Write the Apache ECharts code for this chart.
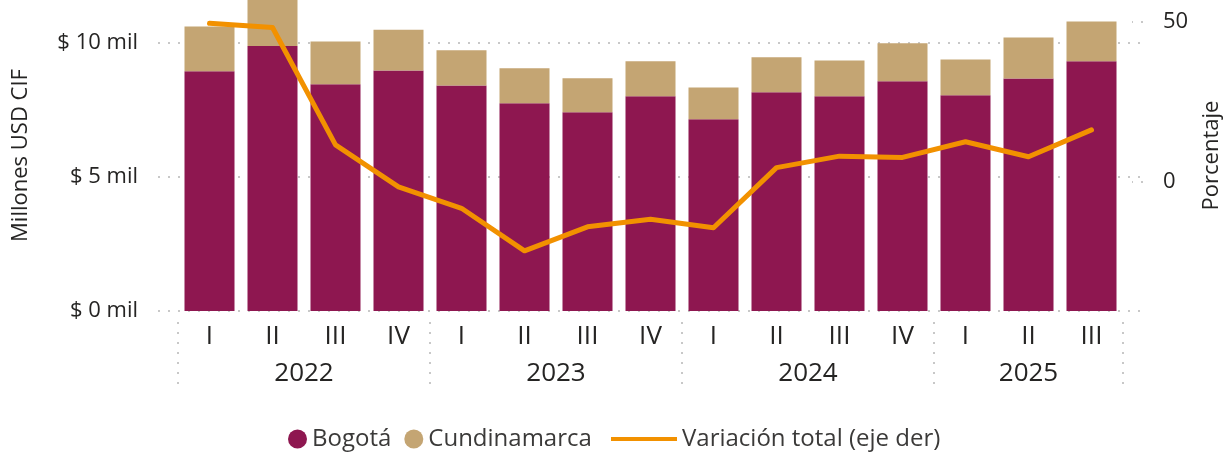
<!DOCTYPE html>
<html>
<head>
<meta charset="utf-8">
<title>Importaciones Bogotá y Cundinamarca</title>
<script src="https://cdn.jsdelivr.net/npm/echarts@6/dist/echarts.min.js"></script>
<style>
  html, body { margin: 0; padding: 0; background: #fff; }
  #chart { width: 1223px; height: 457px; }
</style>
</head>
<body>
<div id="chart"></div>
<script>
// data (miles de millones USD CIF, variación %)
const quarters = ["I", "II", "III", "IV", "I", "II", "III", "IV", "I", "II", "III", "IV", "I", "II", "III"];
const yearOfQuarter = ["2022", "2022", "2022", "2022", "2023", "2023", "2023", "2023",
  "2024", "2024", "2024", "2024", "2025", "2025", "2025"];
const bogota = [8.96, 9.90, 8.47, 8.99, 8.43, 7.76, 7.43, 8.02, 7.16, 8.17, 8.02, 8.58, 8.06, 8.69, 9.33];
const cundinamarca = [1.67, 1.72, 1.60, 1.52, 1.31, 1.31, 1.27, 1.31, 1.19, 1.31, 1.34, 1.42, 1.34, 1.53, 1.49];
const variacion = [49.6, 48.3, 11.6, -1.5, -8.2, -21.5, -14.0, -11.6, -14.3, 4.5, 8.1, 7.7, 12.6, 7.9, 16.3];
const leftTicks = [0, 5, 10];
const rightTicks = [0, 50];

const FONT = "Open Sans";
const TXT = "#252423";
const GRIDC = "#c8c8c8";
const DOTS = { color: GRIDC, width: 2, type: [2, 8] };

// year groups for the second level of the x axis
const groups = [];
yearOfQuarter.forEach(function (y, i) {
  const g = groups[groups.length - 1];
  if (g && g.year === y) g.end = i + 1;
  else groups.push({ year: y, start: i, end: i + 1 });
});
const yearCenters = groups.map(function (g) { return (g.start + g.end) / 2; });

const myChart = echarts.init(document.getElementById("chart"));

const option = {
  animation: false,
  textStyle: { fontFamily: FONT },
  grid: [
    { left: 178, right: 100, top: 0, bottom: 146, outerBoundsMode: "none", containLabel: false },
    { left: 158, right: 80, top: 43, bottom: 146, outerBoundsMode: "none", containLabel: false },
    { left: 178, right: 100, top: 322, height: 70, outerBoundsMode: "none", containLabel: false }
  ],
  legend: [
    {
      data: ["Bogotá", "Cundinamarca"],
      left: 283, top: 422,
      icon: "circle", itemWidth: 19, itemHeight: 19, itemGap: 13,
      textStyle: { fontFamily: FONT, fontSize: 24, color: "#3b3a39" }
    },
    {
      data: ["Variación total (eje der)"],
      left: 606, top: 422,
      icon: "rect", itemWidth: 66, itemHeight: 4,
      textStyle: { fontFamily: FONT, fontSize: 24, color: "#3b3a39" }
    }
  ],
  xAxis: [
    {
      type: "category", gridIndex: 0, data: quarters,
      axisLine: { show: false }, axisTick: { show: false },
      axisLabel: { fontSize: 26, color: TXT, margin: 13, interval: 0 }
    },
    {
      // year labels
      type: "value", gridIndex: 0, min: 0, max: quarters.length,
      position: "bottom", offset: 11,
      axisLine: { show: false }, axisTick: { show: false },
      splitLine: { show: false },
      axisLabel: {
        customValues: yearCenters, fontSize: 26, color: TXT, margin: 39,
        formatter: function (v) {
          const g = groups.find(function (g) { return Math.abs((g.start + g.end) / 2 - v) < 1e-6; });
          return g ? g.year : "";
        }
      }
    },
    { type: "value", gridIndex: 1, min: 0, max: 1, show: false },
    {
      // dotted separators between years
      type: "value", gridIndex: 2, min: 0, max: quarters.length, interval: 4,
      axisLine: { show: false }, axisTick: { show: false }, axisLabel: { show: false },
      splitLine: { show: true, lineStyle: DOTS }
    }
  ],
  yAxis: [
    {
      type: "value", gridIndex: 0, min: 0, max: 11.62,
      axisLine: { show: false }, axisTick: { show: false },
      axisLabel: { show: false }, splitLine: { show: false },
      name: "Millones USD CIF", nameLocation: "middle", nameRotate: 90, nameGap: 146,
      nameTextStyle: { fontFamily: FONT, fontSize: 22, color: TXT }
    },
    {
      type: "value", gridIndex: 0, position: "right", offset: 20,
      min: -40.3, max: 56.9,
      axisLine: { show: false }, splitLine: { show: false },
      axisTick: {
        show: true, inside: true, length: 11, customValues: rightTicks,
        lineStyle: DOTS
      },
      axisLabel: { customValues: rightTicks, fontSize: 22, color: TXT, margin: 20 },
      name: "Porcentaje", nameLocation: "middle", nameRotate: 90, nameGap: 58,
      nameTextStyle: { fontFamily: FONT, fontSize: 22, color: TXT }
    },
    {
      type: "value", gridIndex: 1, min: leftTicks[0], max: leftTicks[leftTicks.length - 1],
      interval: leftTicks[1] - leftTicks[0],
      axisLine: { show: false }, axisTick: { show: false },
      axisLabel: {
        fontSize: 22, color: TXT, margin: 20,
        formatter: function (v) { return "$ " + v + " mil"; }
      },
      splitLine: { show: true, lineStyle: DOTS }
    },
    { type: "value", gridIndex: 2, min: 0, max: 1, show: false }
  ],
  series: [
    {
      name: "Bogotá", type: "bar", stack: "total", xAxisIndex: 0, yAxisIndex: 0,
      barWidth: 50, data: bogota, itemStyle: { color: "#8E1750" }
    },
    {
      name: "Cundinamarca", type: "bar", stack: "total", xAxisIndex: 0, yAxisIndex: 0,
      barWidth: 50, data: cundinamarca, itemStyle: { color: "#C4A573" }
    },
    {
      name: "Variación total (eje der)", type: "line", xAxisIndex: 0, yAxisIndex: 1,
      data: variacion, showSymbol: false, symbol: "none", z: 5,
      itemStyle: { color: "#F29100" },
      lineStyle: { color: "#F29100", width: 5, cap: "round", join: "round" }
    }
  ]
};

option && myChart.setOption(option);
</script>
</body>
</html>
